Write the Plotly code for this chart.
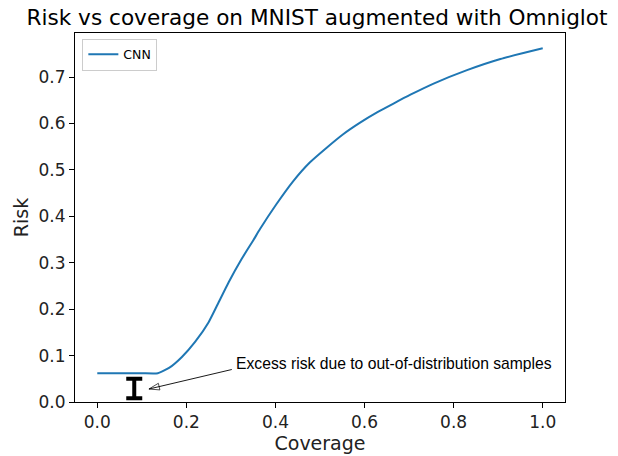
import plotly.graph_objects as go

# Data
coverage = [0.0, 0.05, 0.10, 0.136, 0.162, 0.19, 0.22, 0.25, 0.27, 0.295, 0.324,
            0.35, 0.365, 0.402, 0.44, 0.477, 0.515, 0.552, 0.59, 0.628, 0.665,
            0.703, 0.755, 0.83, 0.905, 1.0]
risk = [0.062, 0.062, 0.062, 0.062, 0.074, 0.097, 0.13, 0.172, 0.21, 0.258, 0.308,
        0.348, 0.372, 0.426, 0.476, 0.516, 0.548, 0.577, 0.602, 0.624, 0.643,
        0.662, 0.686, 0.715, 0.739, 0.762]

# Excess-risk bracket (center and half-height)
excess_x = [0.083]
excess_y = [0.029]
excess_half = [0.021]

# Annotation arrow (tail -> tip) and text position
arrow_x = [0.302, 0.116]
arrow_y = [0.070, 0.028]
note_text = "Excess risk due to out-of-distribution samples"
note_pos = (0.307, 0.084)

x_ticks = [0.0, 0.2, 0.4, 0.6, 0.8, 1.0]
y_ticks = [0.0, 0.1, 0.2, 0.3, 0.4, 0.5, 0.6, 0.7]

fig = go.Figure()
fig.add_trace(go.Scatter(x=coverage, y=risk, mode="lines", name="CNN",
                         line=dict(color="#1f77b4", width=2, shape="spline", smoothing=0.5)))
fig.add_trace(go.Scatter(x=excess_x, y=excess_y, mode="markers", showlegend=False,
                         marker=dict(size=1, color="rgba(0,0,0,0)"),
                         error_y=dict(type="data", array=excess_half, color="black",
                                      thickness=4, width=8),
                         hoverinfo="skip"))
fig.add_trace(go.Scatter(x=arrow_x, y=arrow_y, mode="lines+markers", showlegend=False,
                         line=dict(color="black", width=0.9),
                         marker=dict(symbol=["circle", "arrow-open"], size=[0, 11],
                                     angleref="previous", color="black",
                                     line=dict(color="black", width=1)),
                         hoverinfo="skip"))
fig.add_annotation(x=note_pos[0], y=note_pos[1], xref="x", yref="y",
                   text=note_text, showarrow=False, xanchor="left", yanchor="middle",
                   font=dict(family="Liberation Sans, Arial", size=15.7, color="black"))

axis_common = dict(showline=True, linecolor="black", linewidth=1, mirror=True,
                   ticks="outside", ticklen=5, tickcolor="black", showgrid=False,
                   zeroline=False, automargin=False,
                   tickfont=dict(family="DejaVu Sans", size=17, color="#222"),
                   title_font=dict(family="DejaVu Sans", size=19, color="#222"))

fig.update_layout(
    width=610, height=448,
    margin=dict(l=67, r=53, t=25, b=54),
    paper_bgcolor="white", plot_bgcolor="white",
    title=dict(text="Risk vs coverage on MNIST augmented with Omniglot",
               x=0.5066, xanchor="center", xref="container", y=0.978, yanchor="middle",
               font=dict(family="DejaVu Sans", size=21.6, color="black")),
    xaxis=dict(range=[-0.05, 1.05], tickvals=x_ticks, tickformat=".1f",
               title=dict(text="Coverage", standoff=4), **axis_common),
    yaxis=dict(range=[0.0, 0.795], tickvals=y_ticks, tickformat=".1f",
               title=dict(text="Risk", standoff=4), **axis_common),
    legend=dict(x=0.015, y=0.985, xanchor="left", yanchor="top",
                bgcolor="rgba(255,255,255,0.8)", bordercolor="#cccccc", borderwidth=1,
                font=dict(family="DejaVu Sans", size=12.5, color="black")),
    showlegend=True,
)

fig.write_html("out.html")
